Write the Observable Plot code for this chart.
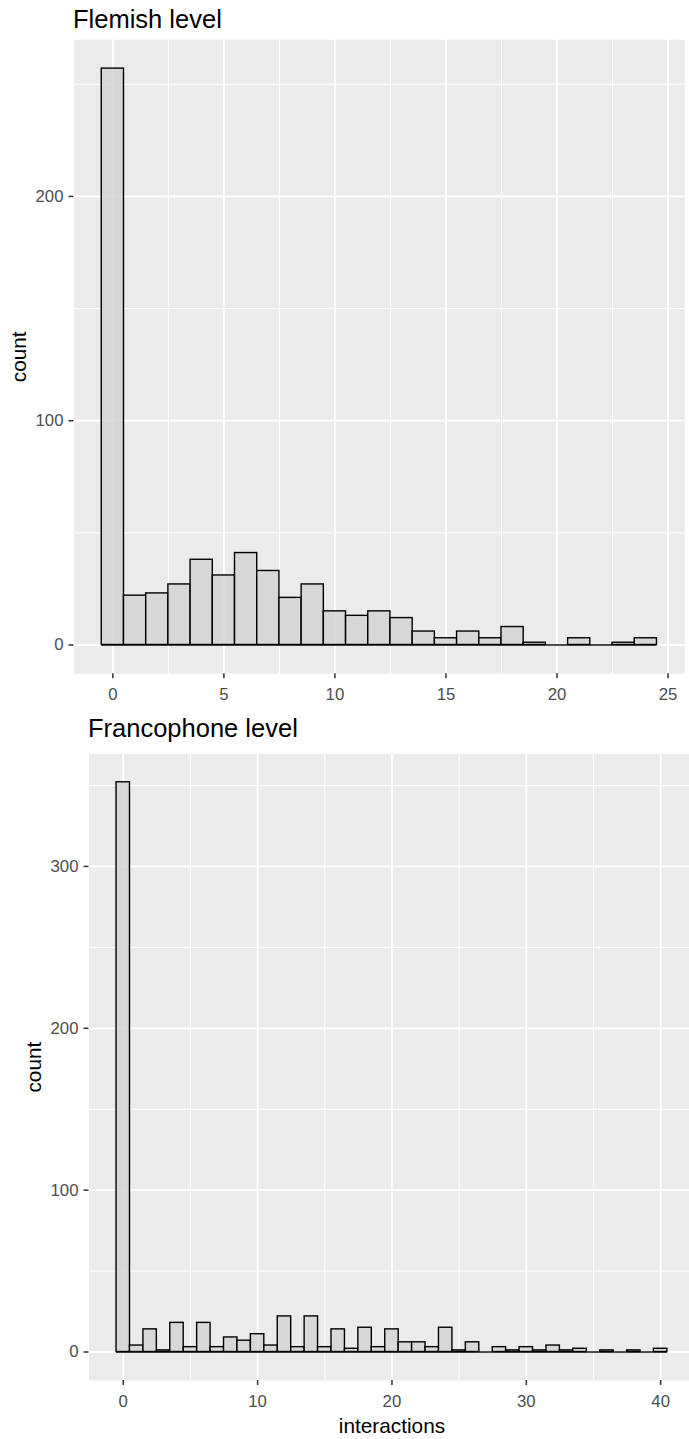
<!DOCTYPE html>
<html>
<head>
<meta charset="utf-8">
<script src="https://cdn.jsdelivr.net/npm/d3@7"></script>
<script src="https://cdn.jsdelivr.net/npm/@observablehq/plot@0.6"></script>
<style>
  html, body { margin: 0; padding: 0; background: white; overflow: hidden; }
  #chart { position: relative; width: 689px; height: 1439px; overflow: hidden;
           font-family: "Liberation Sans", Arial, sans-serif; }
  .panel { position: absolute; left: 0; }
  .panel svg { max-width: none; }
  .title { position: absolute; font-size: 25.5px; line-height: 25px; color: black; white-space: nowrap; }
</style>
</head>
<body>
<div id="chart">
  <div class="panel" id="flemish"></div>
  <div class="panel" id="franco"></div>
  <div class="title" style="left:73px; top:7px;">Flemish level</div>
  <div class="title" style="left:88px; top:716px;">Francophone level</div>
</div>
<script>
// Histogram counts per interaction value (bins of width 1, centred on integers)
const flemishCounts = [257, 22, 23, 27, 38, 31, 41, 33, 21, 27, 15, 13, 15, 12, 6, 3, 6, 3, 8, 1, 0, 3, 0, 1, 3];
const francophoneCounts = [352, 4, 14, 1, 18, 3, 18, 3, 9, 7, 11, 4, 22, 3, 22, 3, 14, 2, 15, 3, 14, 6, 6, 3, 15,
                           1, 6, 0, 3, 1, 3, 1, 4, 1, 2, 0, 1, 0, 1, 0, 2];

// Axis breaks
const flemishXTicks = [0, 5, 10, 15, 20, 25];
const flemishXMinor = [2.5, 7.5, 12.5, 17.5, 22.5];
const flemishYTicks = [0, 100, 200];
const flemishYMinor = [50, 150, 250];

const francoXTicks = [0, 10, 20, 30, 40];
const francoXMinor = [5, 15, 25, 35];
const francoYTicks = [0, 100, 200, 300];
const francoYMinor = [50, 150, 250, 350];

const FONT = "Liberation Sans, Arial, sans-serif";
const PANEL_BG = "#EBEBEB";

function toBins(counts) {
  return counts.map((count, i) => ({x0: i - 0.5, x1: i + 0.5, count}));
}

// 5% expansion of a continuous range on both sides
function expand([lo, hi]) {
  const pad = (hi - lo) * 0.05;
  return [lo - pad, hi + pad];
}

function histogram({counts, xTicks, xMinor, yTicks, yMinor, width, height,
                    marginLeft, marginRight, marginTop, marginBottom, xTitle}) {
  const bins = toBins(counts);
  const xDomain = expand([bins[0].x0, bins[bins.length - 1].x1]);
  const yDomain = expand([0, d3.max(counts)]);
  const marks = [
    Plot.frame({fill: PANEL_BG, stroke: null}),
    Plot.ruleY(yMinor, {stroke: "white", strokeWidth: 1.0}),
    Plot.ruleX(xMinor, {stroke: "white", strokeWidth: 1.0}),
    Plot.ruleY(yTicks, {stroke: "white", strokeWidth: 1.8}),
    Plot.ruleX(xTicks, {stroke: "white", strokeWidth: 1.8}),
    Plot.rectY(bins, {x1: "x0", x2: "x1", y: "count", fill: "#D3D3D3", fillOpacity: 0.85,
                      stroke: "black", strokeWidth: 1.4}),
    // empty bins still show their outline along the baseline
    Plot.ruleY(bins, {x1: "x0", x2: "x1", y: 0, stroke: "black", strokeWidth: 1.4}),
    Plot.axisX(xTicks, {tickSize: 5, tickPadding: 9.5, stroke: "#333333", strokeWidth: 1.5,
                        fill: "#4D4D4D", fontSize: 16.8, label: null, tickFormat: d3.format("d")}),
    Plot.axisY(yTicks, {tickSize: 5, tickPadding: 5.5, stroke: "#333333", strokeWidth: 1.5,
                        fill: "#4D4D4D", fontSize: 16.8, label: null, tickFormat: d3.format("d")}),
    Plot.text(["count"], {text: (d) => d, frameAnchor: "left", textAnchor: "middle", lineAnchor: "middle",
                          rotate: -90, dx: -54.5, fontSize: 20.8, fill: "black"})
  ];
  if (xTitle) {
    marks.push(Plot.text([xTitle], {text: (d) => d, frameAnchor: "bottom", textAnchor: "middle",
                                    lineAnchor: "middle", dy: 46.3, fontSize: 20.8, fill: "black"}));
  }
  return Plot.plot({
    width, height, marginLeft, marginRight, marginTop, marginBottom,
    style: {fontFamily: FONT, background: "transparent", overflow: "visible", maxWidth: "none"},
    x: {domain: xDomain, label: null},
    y: {domain: yDomain, label: null},
    marks
  });
}

const flemishPlot = histogram({
  counts: flemishCounts, xTicks: flemishXTicks, xMinor: flemishXMinor,
  yTicks: flemishYTicks, yMinor: flemishYMinor,
  width: 689, height: 715, marginLeft: 73.5, marginRight: 4.8, marginTop: 39.3, marginBottom: 41.7
});
const flemishEl = document.getElementById("flemish");
flemishEl.style.top = "0px";
flemishEl.appendChild(flemishPlot);

const francoPlot = histogram({
  counts: francophoneCounts, xTicks: francoXTicks, xMinor: francoXMinor,
  yTicks: francoYTicks, yMinor: francoYMinor,
  width: 695, height: 724, marginLeft: 88.5, marginRight: 0.6, marginTop: 38.3, marginBottom: 59,
  xTitle: "interactions"
});
const francoEl = document.getElementById("franco");
francoEl.style.top = "715px";
francoEl.style.width = "695px";
francoEl.appendChild(francoPlot);
</script>
</body>
</html>
